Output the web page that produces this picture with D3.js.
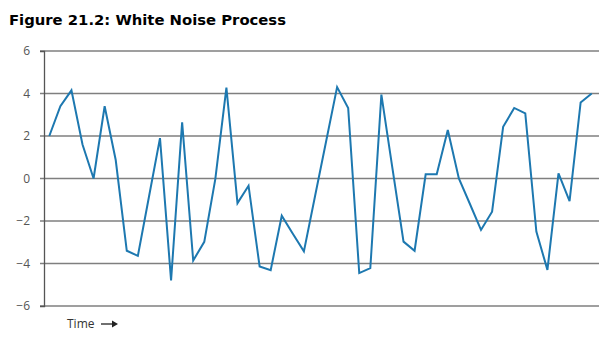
<!DOCTYPE html>
<html lang="en">
<head>
  <meta charset="UTF-8">
  <title>White Noise Process</title>
  <script src="https://d3js.org/d3.v7.min.js"></script>
  <style>
    body { margin: 0; background: #fff; }
    svg { display: block; }
  </style>
</head>
<body>
<svg width="613" height="341"></svg>
<script>
// values, one per time step
const values = [
  2.0, 3.4, 4.15, 1.6, 0.0, 3.4, 0.87, -3.4, -3.64, -0.87,
  1.9, -4.8, 2.64, -3.86, -2.98, -0.02, 4.28, -1.16, -0.34, -4.14,
  -4.31, -1.75, -2.6, -3.43, -0.85, 1.73, 4.3, 3.32, -4.45, -4.22,
  3.95, 0.48, -2.97, -3.4, 0.2, 0.2, 2.28, 0.0, -1.2, -2.42,
  -1.56, 2.43, 3.32, 3.06, -2.5, -4.3, 0.24, -1.06, 3.58, 4.0
];
const yTicks = [-6, -4, -2, 0, 2, 4, 6];

const svg = d3.select("svg");
const plot = {left: 44, right: 599, top: 51, bottom: 306};

const x = d3.scaleLinear().domain([0, values.length - 1]).range([49.3, 591.7]);
const y = d3.scaleLinear().domain([-6, 6]).range([plot.bottom, plot.top]);

// title
svg.append("text")
  .attr("x", 9).attr("y", 25)
  .attr("font-family", "'Comic Sans MS', 'DejaVu Sans', sans-serif")
  .attr("font-weight", "bold")
  .attr("font-size", "14px")
  .attr("textLength", 277)
  .attr("lengthAdjust", "spacingAndGlyphs")
  .attr("fill", "#000")
  .text("Figure 21.2: White Noise Process");

// gridlines
svg.append("g")
  .selectAll("line")
  .data(yTicks)
  .join("line")
  .attr("x1", plot.left - 4).attr("x2", plot.right)
  .attr("y1", d => y(d)).attr("y2", d => y(d))
  .attr("stroke", "#7f7f7f")
  .attr("stroke-width", 1.3);

// y axis
const yAxis = svg.append("g")
  .attr("transform", `translate(${plot.left},0)`)
  .call(d3.axisLeft(y).tickValues(yTicks).tickSize(4).tickPadding(10));
yAxis.select(".domain").attr("stroke", "#555").attr("stroke-width", 1.3);
yAxis.selectAll(".tick line").remove();
yAxis.selectAll("text")
  .attr("font-family", "'Open Sans', 'Noto Sans', sans-serif")
  .attr("font-size", "12px")
  .attr("fill", "#555");

// series
svg.append("path")
  .datum(values)
  .attr("fill", "none")
  .attr("stroke", "#1d78b0")
  .attr("stroke-width", 2)
  .attr("stroke-linejoin", "miter")
  .attr("d", d3.line().x((d, i) => x(i)).y(d => y(d)));

// time label with arrow
svg.append("text")
  .attr("x", 67).attr("y", 328)
  .attr("font-family", "'Open Sans', 'Noto Sans', sans-serif")
  .attr("font-size", "12px")
  .attr("fill", "#333")
  .text("Time");
svg.append("line")
  .attr("x1", 101).attr("x2", 114)
  .attr("y1", 324).attr("y2", 324)
  .attr("stroke", "#222").attr("stroke-width", 1.3);
svg.append("path")
  .attr("d", "M112,320.5 L118,324 L112,327.5 Z")
  .attr("fill", "#222");
</script>
</body>
</html>
